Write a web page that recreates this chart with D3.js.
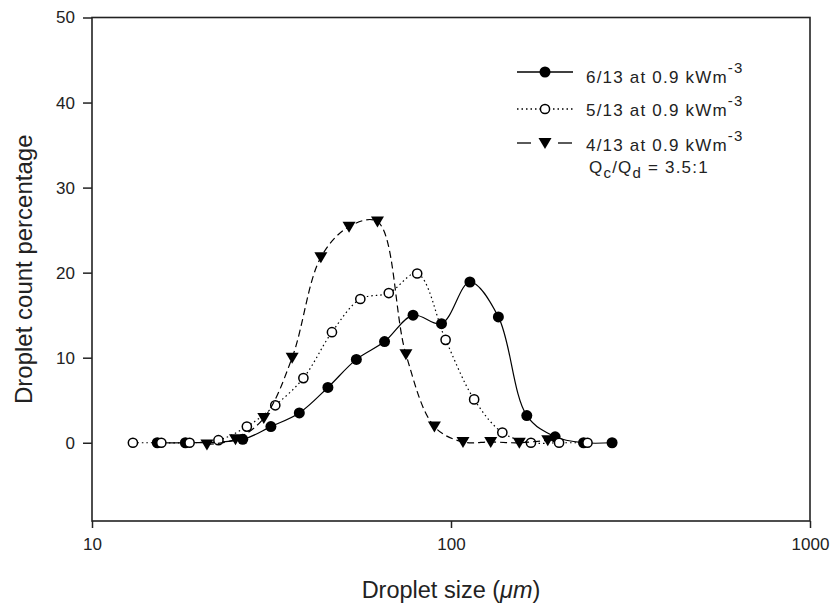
<!DOCTYPE html>
<html>
<head>
<meta charset="utf-8">
<script src="https://cdn.jsdelivr.net/npm/d3@7"></script>
<style>
  body { margin: 0; background: #fff; }
  text { font-family: "Liberation Sans", Arial, sans-serif; fill: #222; }
</style>
</head>
<body>
<script>
// droplet sizes (um) and count percentages
const sizes6 = [15.2, 18.2, 26.3, 31.5, 37.8, 45.4, 54.5, 65.3, 78.4, 94.1, 112.9, 135.5, 162.6, 195, 234, 281];
const pct6 = [0, 0, 0.4, 1.9, 3.5, 6.5, 9.8, 11.9, 15.0, 14.0, 18.9, 14.8, 3.2, 0.7, 0, 0];

const sizes5 = [13.0, 15.6, 18.7, 22.5, 27.0, 32.4, 38.8, 46.6, 55.9, 67.1, 80.5, 96.6, 116, 139, 167, 200, 240];
const pct5 = [0, 0, 0, 0.3, 1.9, 4.4, 7.6, 13.0, 16.9, 17.6, 19.9, 12.1, 5.1, 1.2, 0, 0, 0];

const sizes4 = [20.9, 25.1, 30.1, 36.1, 43.4, 52.0, 62.4, 74.9, 89.9, 108, 129, 155, 186];
const pct4 = [-0.2, 0.4, 2.9, 10.0, 21.8, 25.4, 26.0, 10.4, 1.9, 0.1, 0.1, 0, 0.3];

const legendLabels = ["6/13 at 0.9 kWm", "5/13 at 0.9 kWm", "4/13 at 0.9 kWm"];
const xTicks = [10, 100, 1000];
const yTicks = [0, 10, 20, 30, 40, 50];

const w = 838;
const h = 611;
const padLeft = 92, padRight = 810, padTop = 17.5, padBottom = 521;

const svg = d3.select("body").append("svg").attr("width", w).attr("height", h);

const xScale = d3.scaleLog().domain([10, 1000]).range([padLeft, padRight]);
const yScale = d3.scaleLinear().domain([-9.2, 50]).range([padBottom, padTop]);

// frame
svg.append("rect")
  .attr("x", padLeft).attr("y", padTop)
  .attr("width", padRight - padLeft).attr("height", padBottom - padTop)
  .attr("fill", "none").attr("stroke", "#222").attr("stroke-width", 1.6);

// axes
const xAxis = d3.axisBottom(xScale).tickValues(xTicks).tickFormat(d3.format("d"))
  .tickSize(7).tickPadding(10);
const yAxis = d3.axisLeft(yScale).tickValues(yTicks).tickSize(9).tickPadding(8);

const gx = svg.append("g").attr("transform", "translate(0," + padBottom + ")").call(xAxis);
const gy = svg.append("g").attr("transform", "translate(" + padLeft + ",0)").call(yAxis);
[gx, gy].forEach((g) => {
  g.select(".domain").remove();
  g.selectAll("line").attr("stroke", "#222").attr("stroke-width", 1.5);
  g.selectAll("text").style("font-size", "17px").style("font-family", "Liberation Sans, Arial, sans-serif").attr("fill", "#222");
});

// axis titles
const xt = svg.append("text")
  .attr("x", (padLeft + padRight) / 2).attr("y", 598)
  .attr("text-anchor", "middle").style("font-size", "23.5px");
xt.append("tspan").text("Droplet size (");
xt.append("tspan").style("font-style", "italic").text("μm");
xt.append("tspan").text(")");

svg.append("text")
  .attr("transform", "translate(32," + (padTop + padBottom) / 2 + ") rotate(-90)")
  .attr("text-anchor", "middle").style("font-size", "24px")
  .text("Droplet count percentage");

// series
const line = d3.line()
  .x((d) => xScale(d[0]))
  .y((d) => yScale(d[1]))
  .curve(d3.curveCatmullRom.alpha(0.5));

const series = [
  { x: sizes6, y: pct6, dash: null, marker: "filled" },
  { x: sizes5, y: pct5, dash: "1.5,3", marker: "open" },
  { x: sizes4, y: pct4, dash: "7,4", marker: "tri" }
];

const triPath = "M-6.5,-5 L6.5,-5 L0,6 Z";

function drawMarker(g, type, px, py) {
  if (type === "filled") {
    g.append("circle").attr("cx", px).attr("cy", py).attr("r", 5.5).attr("fill", "#000");
  } else if (type === "open") {
    g.append("circle").attr("cx", px).attr("cy", py).attr("r", 4.6)
      .attr("fill", "#fff").attr("stroke", "#000").attr("stroke-width", 1.5);
  } else {
    g.append("path").attr("d", triPath).attr("transform", "translate(" + px + "," + py + ")").attr("fill", "#000");
  }
}

series.forEach((s) => {
  const pts = s.x.map((v, i) => [v, s.y[i]]);
  const g = svg.append("g");
  g.append("path")
    .attr("d", line(pts))
    .attr("fill", "none")
    .attr("stroke", "#000")
    .attr("stroke-width", 1.2)
    .attr("stroke-dasharray", s.dash);
  pts.forEach((p) => drawMarker(g, s.marker, xScale(p[0]), yScale(p[1])));
});

// legend
const legendY = [72, 109, 143];
const legendBase = [83, 116, 151];
const lg = svg.append("g");
series.forEach((s, i) => {
  const ly = legendY[i];
  if (s.marker === "tri") {
    lg.append("line").attr("x1", 517).attr("x2", 531).attr("y1", ly).attr("y2", ly)
      .attr("stroke", "#000").attr("stroke-width", 1.3);
    lg.append("line").attr("x1", 558).attr("x2", 572).attr("y1", ly).attr("y2", ly)
      .attr("stroke", "#000").attr("stroke-width", 1.3);
  } else {
    lg.append("line").attr("x1", 517).attr("x2", 573).attr("y1", ly).attr("y2", ly)
      .attr("stroke", "#000").attr("stroke-width", 1.3)
      .attr("stroke-dasharray", s.dash);
  }
  drawMarker(lg, s.marker, 545, ly);
  const t = lg.append("text").attr("x", 586).attr("y", legendBase[i])
    .style("font-size", "17px").style("letter-spacing", "1.2px");
  t.append("tspan").text(legendLabels[i]);
  t.append("tspan").attr("dy", -10).style("font-size", "15px").text("-3");
});

const q = lg.append("text").attr("x", 589).attr("y", 173)
  .style("font-size", "17px").style("letter-spacing", "1.2px");
q.append("tspan").text("Q");
q.append("tspan").attr("dy", 5).style("font-size", "15px").text("c");
q.append("tspan").attr("dy", -5).text("/Q");
q.append("tspan").attr("dy", 5).style("font-size", "15px").text("d");
q.append("tspan").attr("dy", -5).text(" = 3.5:1");
</script>
</body>
</html>
